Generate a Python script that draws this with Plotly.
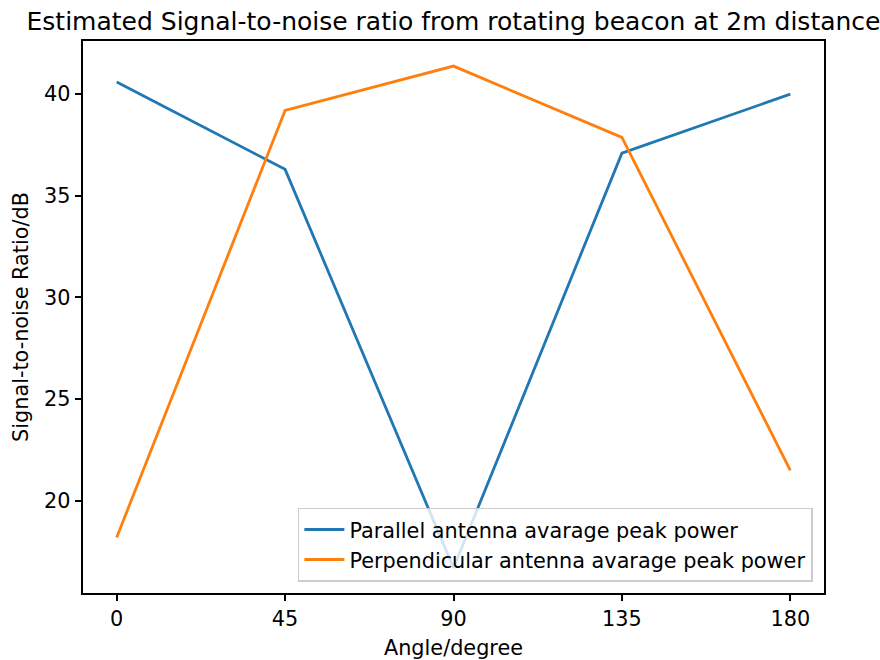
import plotly.graph_objects as go

# Beacon rotation angle (degrees) and estimated SNR (dB) per antenna orientation
angles = [0, 45, 90, 135, 180]
parallel_snr = [40.6, 36.3, 16.7, 37.1, 40.0]
perpendicular_snr = [18.2, 39.2, 41.38, 37.87, 21.5]
x_ticks = [0, 45, 90, 135, 180]
y_ticks = [20, 25, 30, 35, 40]

FONT = "DejaVu Sans"
LABEL_SIZE = 20.8

fig = go.Figure()
fig.add_trace(go.Scatter(
    x=angles, y=parallel_snr, mode="lines",
    name="Parallel antenna avarage peak power",
    line=dict(color="#1f77b4", width=2.8),
))
fig.add_trace(go.Scatter(
    x=angles, y=perpendicular_snr, mode="lines",
    name="Perpendicular antenna avarage peak power",
    line=dict(color="#ff7f0e", width=2.8),
))

# matplotlib-like 5% padding around the data extent
all_y = parallel_snr + perpendicular_snr
ymin, ymax = min(all_y), max(all_y)
ypad = 0.05 * (ymax - ymin)
xpad = 0.05 * (max(angles) - min(angles))

axis_common = dict(
    showgrid=False, zeroline=False, automargin=False,
    showline=True, linecolor="black", linewidth=1.5, mirror=True,
    ticks="outside", ticklen=6.7, tickwidth=1.5, tickcolor="black",
    tickfont=dict(family=FONT, size=LABEL_SIZE, color="black"),
)

fig.update_layout(
    width=880, height=660,
    margin=dict(l=83, r=56, t=41, b=67),
    paper_bgcolor="white", plot_bgcolor="white",
    font=dict(family=FONT, color="black"),
    title=dict(
        text="Estimated Signal-to-noise ratio from rotating beacon at 2m distance",
        x=0.5, xanchor="center", xref="paper", y=0.968, yanchor="middle",
        font=dict(family=FONT, size=25, color="black"),
    ),
    xaxis=dict(
        **axis_common,
        range=[min(angles) - xpad, max(angles) + xpad],
        tickvals=x_ticks,
        title=dict(text="Angle/degree", font=dict(family=FONT, size=LABEL_SIZE), standoff=12),
    ),
    yaxis=dict(
        **axis_common,
        range=[ymin - ypad, ymax + ypad],
        tickvals=y_ticks,
        title=dict(text="Signal-to-noise Ratio/dB", font=dict(family=FONT, size=LABEL_SIZE), standoff=10),
    ),
    legend=dict(
        x=0.985, y=0.02, xanchor="right", yanchor="bottom",
        bgcolor="rgba(255,255,255,0.8)", bordercolor="#cccccc", borderwidth=1.5,
        font=dict(family=FONT, size=LABEL_SIZE, color="black"),
        itemwidth=40, tracegroupgap=0,
    ),
    showlegend=True,
)

fig.write_html("out.html")
